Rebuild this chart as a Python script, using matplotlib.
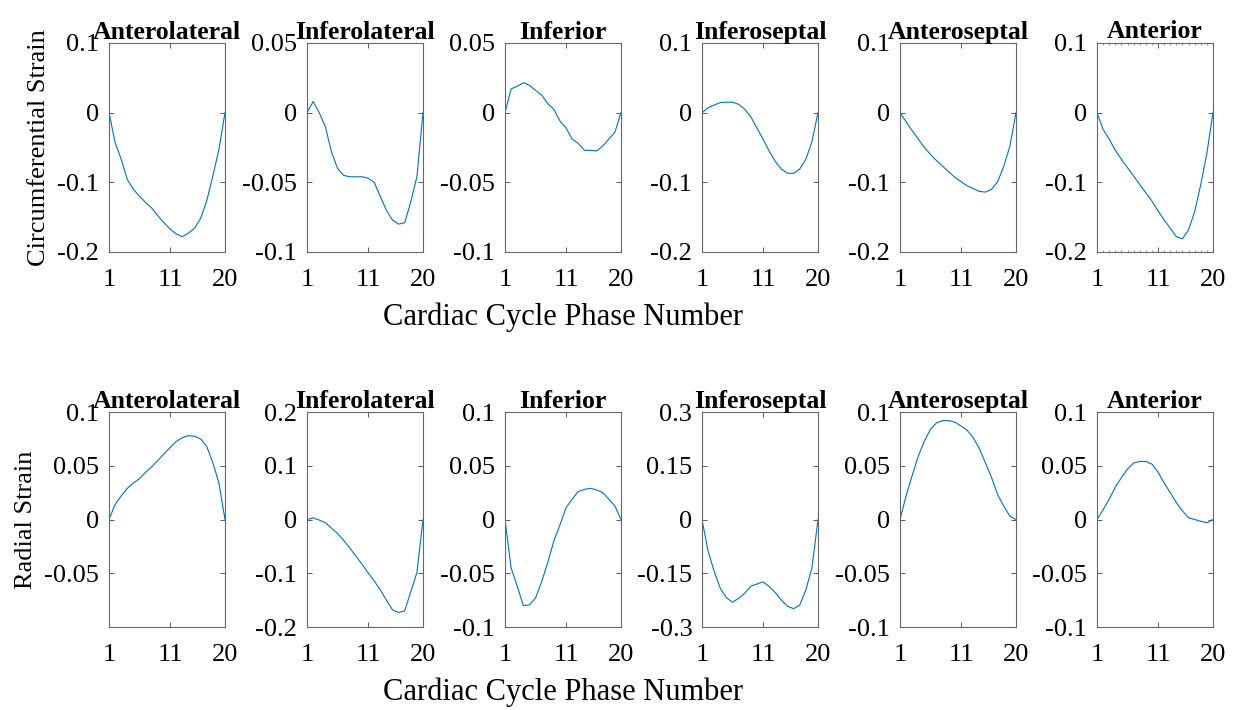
import matplotlib
matplotlib.use("Agg")
import matplotlib.pyplot as plt
import numpy as np

plt.rcParams['font.family'] = ['Liberation Serif', 'DejaVu Serif']

phases = np.arange(1, 21)
regions = ['Anterolateral', 'Inferolateral', 'Inferior', 'Inferoseptal', 'Anteroseptal', 'Anterior']

# circumferential strain per region, phases 1..20
circ_anterolateral = [0, -0.043, -0.067, -0.096, -0.110, -0.120, -0.129, -0.137, -0.148, -0.158,
                      -0.167, -0.174, -0.178, -0.173, -0.166, -0.152, -0.127, -0.091, -0.053, 0]
circ_inferolateral = [0, 0.008, 0.0, -0.010, -0.028, -0.040, -0.045, -0.046, -0.046, -0.046,
                      -0.047, -0.050, -0.060, -0.070, -0.077, -0.080, -0.079, -0.064, -0.046, 0]
circ_inferior = [0, 0.017, 0.019, 0.0215, 0.0197, 0.016, 0.0127, 0.0065, 0.0024, -0.006,
                 -0.011, -0.019, -0.022, -0.027, -0.027, -0.0275, -0.024, -0.019, -0.014, 0]
circ_inferoseptal = [0, 0.007, 0.011, 0.0145, 0.015, 0.015, 0.012, 0.005, -0.006, -0.022,
                     -0.038, -0.055, -0.070, -0.081, -0.087, -0.087, -0.081, -0.067, -0.042, 0]
circ_anteroseptal = [0, -0.013, -0.026, -0.038, -0.050, -0.060, -0.069, -0.077, -0.085, -0.093,
                     -0.099, -0.105, -0.109, -0.113, -0.114, -0.110, -0.099, -0.077, -0.048, 0]
circ_anterior = [0, -0.024, -0.038, -0.054, -0.067, -0.079, -0.091, -0.103, -0.115, -0.127,
                 -0.141, -0.154, -0.166, -0.178, -0.181, -0.168, -0.142, -0.103, -0.058, 0]

# radial strain per region
rad_anterolateral = [0, 0.014, 0.022, 0.029, 0.034, 0.038, 0.044, 0.049, 0.055, 0.061,
                     0.067, 0.0725, 0.076, 0.078, 0.0775, 0.075, 0.068, 0.053, 0.034, 0]
rad_inferolateral = [0, 0.003, -0.001, -0.006, -0.016, -0.026, -0.039, -0.053, -0.068, -0.083,
                     -0.099, -0.114, -0.131, -0.150, -0.168, -0.173, -0.170, -0.134, -0.099, 0]
rad_inferior = [0, -0.045, -0.062, -0.080, -0.0795, -0.073, -0.058, -0.040, -0.020, -0.005,
                0.011, 0.019, 0.026, 0.028, 0.029, 0.0275, 0.025, 0.019, 0.0125, 0]
rad_inferoseptal = [0, -0.089, -0.145, -0.192, -0.218, -0.231, -0.220, -0.206, -0.186, -0.180,
                    -0.174, -0.187, -0.204, -0.225, -0.242, -0.249, -0.239, -0.197, -0.136, 0]
rad_anteroseptal = [0, 0.022, 0.041, 0.059, 0.073, 0.084, 0.090, 0.092, 0.092, 0.0905,
                    0.087, 0.083, 0.076, 0.066, 0.0525, 0.039, 0.023, 0.0125, 0.003, 0]
rad_anterior = [0, 0.009, 0.019, 0.030, 0.039, 0.047, 0.0525, 0.054, 0.054, 0.0515,
                0.044, 0.034, 0.025, 0.0156, 0.008, 0.0016, 0.0, -0.0016, -0.003, 0]

circ = [circ_anterolateral, circ_inferolateral, circ_inferior,
        circ_inferoseptal, circ_anteroseptal, circ_anterior]
rad = [rad_anterolateral, rad_inferolateral, rad_inferior,
       rad_inferoseptal, rad_anteroseptal, rad_anterior]

circ_yticks = [[-0.2, -0.1, 0, 0.1], [-0.1, -0.05, 0, 0.05], [-0.1, -0.05, 0, 0.05],
               [-0.2, -0.1, 0, 0.1], [-0.2, -0.1, 0, 0.1], [-0.2, -0.1, 0, 0.1]]
rad_yticks = [[-0.05, 0, 0.05, 0.1], [-0.2, -0.1, 0, 0.1, 0.2], [-0.1, -0.05, 0, 0.05, 0.1],
              [-0.3, -0.15, 0, 0.15, 0.3], [-0.1, -0.05, 0, 0.05, 0.1], [-0.1, -0.05, 0, 0.05, 0.1]]
circ_ylims = [(-0.2, 0.1), (-0.1, 0.05), (-0.1, 0.05), (-0.2, 0.1), (-0.2, 0.1), (-0.2, 0.1)]
rad_ylims = [(-0.1, 0.1), (-0.2, 0.2), (-0.1, 0.1), (-0.3, 0.3), (-0.1, 0.1), (-0.1, 0.1)]
xticks = [1, 11, 20]

W, H = 1244, 710
fig = plt.figure(figsize=(W / 100, H / 100), dpi=100)
lefts = [109, 307, 505, 702, 900, 1097]
aw = 116


def make_row(top, bottom, data, ylims, yticks, ylabel):
    axes = []
    for i in range(6):
        ax = fig.add_axes([lefts[i] / W, 1 - bottom / H, aw / W, (bottom - top) / H])
        ax.plot(phases, data[i], color='#0072BD', lw=0.8)
        ax.set_xlim(1, 20)
        ax.set_ylim(*ylims[i])
        ax.set_xticks(xticks)
        ax.set_yticks(yticks[i])
        ax.set_yticklabels(['%g' % v for v in yticks[i]])
        ax.tick_params(direction='in', top=True, right=True, length=3.5, width=0.6,
                       color='0.25', labelsize=19)
        ax.tick_params(axis='x', pad=12.5)
        ax.tick_params(axis='y', pad=7)
        for s in ax.spines.values():
            s.set_color('0.4')
            s.set_linewidth(0.8)
        ax.set_title(regions[i], fontsize=18.5, fontweight='bold', pad=3)
        axes.append(ax)
    axes[0].set_ylabel(ylabel, fontsize=19, labelpad=5)
    axes[2].set_xlabel('Cardiac Cycle Phase Number', fontsize=22, labelpad=8)
    return axes


top_axes = make_row(43, 252, circ, circ_ylims, circ_yticks, 'Circumferential Strain')
bot_axes = make_row(412, 627, rad, rad_ylims, rad_yticks, 'Radial Strain')

# minor ticks on the anterior circumferential panel
top_axes[5].set_xticks(phases, minor=True)
top_axes[5].tick_params(which='minor', direction='in', top=True, length=1.5, width=0.5, color='0.4')

fig.savefig('out.png', dpi=100)
